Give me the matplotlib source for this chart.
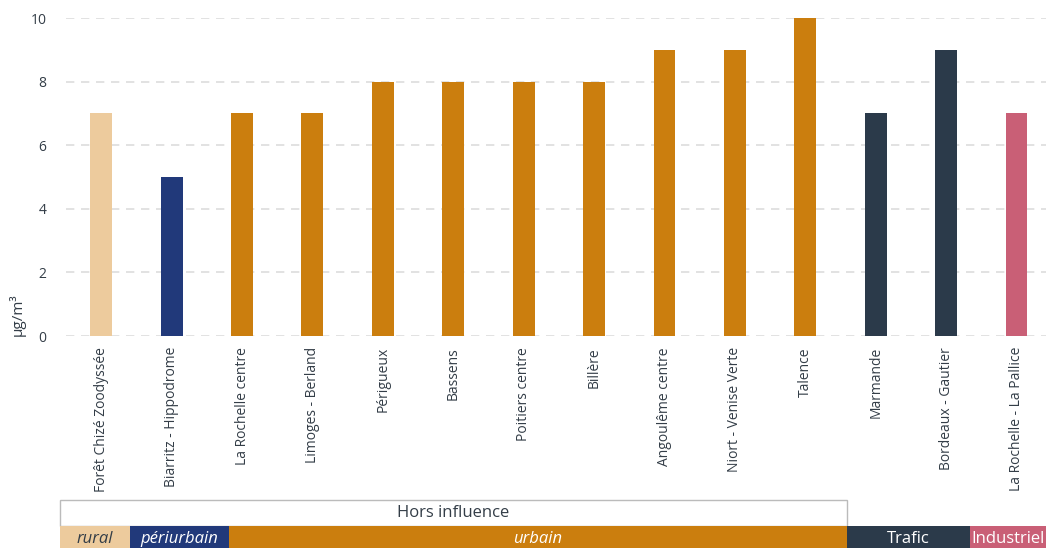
import matplotlib.pyplot as plt
from matplotlib.patches import Rectangle

# stations, valeurs (µg/m3) et typologie
stations = ["Forêt Chizé Zoodyssée", "Biarritz - Hippodrome", "La Rochelle centre",
            "Limoges - Berland", "Périgueux", "Bassens", "Poitiers centre", "Billère",
            "Angoulême centre", "Niort - Venise Verte", "Talence", "Marmande",
            "Bordeaux - Gautier", "La Rochelle - La Pallice"]
valeurs = [7, 5, 7, 7, 8, 8, 8, 8, 9, 9, 10, 7, 9, 7]
typologie = ["rural", "périurbain"] + ["urbain"] * 9 + ["Trafic"] * 2 + ["Industriel"]

couleurs = {"rural": "#EDCB9D", "périurbain": "#21397A", "urbain": "#CB7E0E",
            "Trafic": "#2B3A4A", "Industriel": "#C95F76"}

TXT = "#333D47"
FONT = "Open Sans"
W, H = 1046, 548

plt.rcParams["font.family"] = [FONT, "DejaVu Sans"]

fig = plt.figure(figsize=(W / 100, H / 100), dpi=100)
ax = fig.add_axes([66 / W, 1 - 336 / H, (W - 66) / W, (336 - 18) / H])

x = range(len(stations))
ax.bar(x, valeurs, width=0.31, color=[couleurs[t] for t in typologie], zorder=3)

ax.set_xlim(-0.5, 13.42)
ax.set_ylim(0, 10)
ax.set_yticks([0, 2, 4, 6, 8, 10])
ax.yaxis.grid(True, color="#DDDDDD", linestyle=(0, (5, 4)), linewidth=1.2, zorder=0)
ax.set_axisbelow(True)
for s in ax.spines.values():
    s.set_visible(False)
ax.tick_params(axis="both", length=0, labelsize=10, labelcolor=TXT)
ax.tick_params(axis="y", pad=14)
ax.set_xticks(list(x))
ax.set_xticklabels(stations, rotation=90, fontsize=10, color=TXT)
ax.tick_params(axis="x", pad=8)
ax.set_ylabel("µg/m³", fontsize=11, color=TXT)
ax.yaxis.label.set_verticalalignment("bottom")
ax.yaxis.label.set_horizontalalignment("left")
ax.yaxis.set_label_coords(-40 / (W - 66), 0.0)

# bandeau des typologies en bas
def fig_rect(x0, x1, y0, y1, fc, ec="none"):
    r = Rectangle((x0 / W, 1 - y1 / H), (x1 - x0) / W, (y1 - y0) / H,
                  transform=fig.transFigure, facecolor=fc, edgecolor=ec, linewidth=1)
    fig.patches.append(r)

fig_rect(60, 847, 500, 526, "white", ec="#BBBBBB")
fig.text((60 + 847) / 2 / W, 1 - 513 / H, "Hors influence", ha="center", va="center",
         fontsize=12, color=TXT)

bandes = [("rural", 60, 130, True, TXT), ("périurbain", 130, 229, True, "white"),
          ("urbain", 229, 847, True, "white"), ("Trafic", 847, 970, False, "white"),
          ("Industriel", 970, 1046, False, "white")]
for nom, x0, x1, ital, col in bandes:
    fig_rect(x0, x1, 526, 548, couleurs[nom])
    fig.text((x0 + x1) / 2 / W, 1 - 539 / H, nom, ha="center", va="center", fontsize=12,
             color=col, style="italic" if ital else "normal")

fig.savefig("out.png", dpi=100)
